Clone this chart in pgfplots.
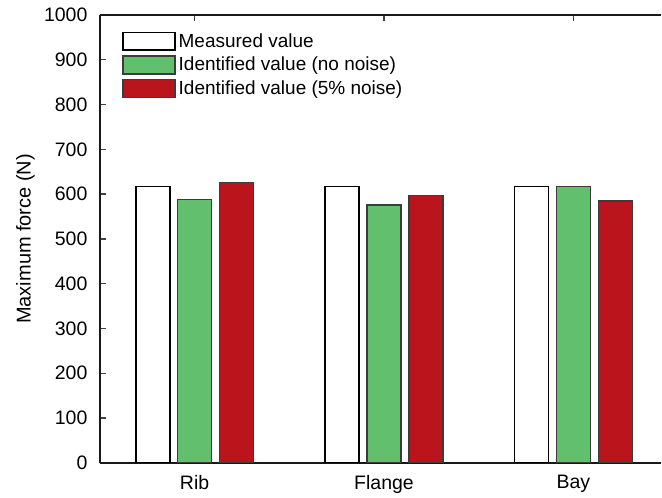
\documentclass[border=0pt]{standalone}
\usepackage{pgfplots}
\pgfplotsset{compat=1.18}
\usepackage{fontspec}
\setmainfont{Liberation Sans}
\definecolor{barGreen}{RGB}{97,191,110}
\definecolor{barRed}{RGB}{186,21,29}
\definecolor{edgeGray}{RGB}{60,60,60}
\pgfplotsset{
  boxlegend/.style={
    legend image code/.code={\draw[##1,line width=1.6pt] (0pt,-9pt) rectangle (52pt,9pt);}
  }
}
\begin{document}
\begin{tikzpicture}[font=\fontsize{18.5}{22}\selectfont]
\begin{axis}[
  name=ax,
  scale only axis,
  width=562pt, height=448.3pt,
  ybar=8pt, bar width=34pt,
  xmin=-0.5, xmax=2.4635,
  ymin=0, ymax=1000,
  axis x line=box, axis y line=left,
  axis line style={-, line width=1.6pt, color=black!90},
  xtick={0,1,2}, xticklabels={Rib,Flange,Bay},
  ytick={0,100,...,1000},
  tick align=inside,
  major tick length=6pt,
  x tick style={line width=1.3pt, color=black!75},
  y tick style={line width=1.3pt, color=black!75},
  /pgf/number format/assume math mode=true,
  /pgf/number format/1000 sep={},
  tick label style={font=\fontsize{19.5}{22}\selectfont},
  yticklabel style={xshift=-9pt},
  xticklabel style={yshift=-9pt},
  ylabel={Maximum force (N)},
  ylabel style={font=\fontsize{20}{22}\selectfont, yshift=2.5pt},
  legend cell align=left,
  legend style={draw=none, fill=none, at={(rel axis cs:0.034,0.968)}, anchor=north west,
    font=\fontsize{19}{22}\selectfont, row sep=4pt,
    /tikz/every odd column/.append style={column sep=1pt}},
  boxlegend,
]
\addplot[boxlegend, draw=black, fill=white, line width=1.8pt]
  coordinates {(0,617) (1,617) (2,617)};
\addplot[boxlegend, draw=edgeGray, fill=barGreen, line width=1.6pt]
  coordinates {(0,588) (1,576) (2,617)};
\addplot[boxlegend, draw=edgeGray, fill=barRed, line width=1.6pt]
  coordinates {(0,626) (1,597) (2,585)};
\legend{Measured value, Identified value (no noise), Identified value (5\% noise)}
\end{axis}
% page extent: 100pt left of the y axis, 15pt above, 34.7pt below
\path (ax.south west) ++(-100pt,-34.7pt) coordinate (pgA);
\path (ax.north east) ++(0pt,15pt) coordinate (pgB);
\path[use as bounding box] (pgA) rectangle (pgB);
\end{tikzpicture}
\end{document}
